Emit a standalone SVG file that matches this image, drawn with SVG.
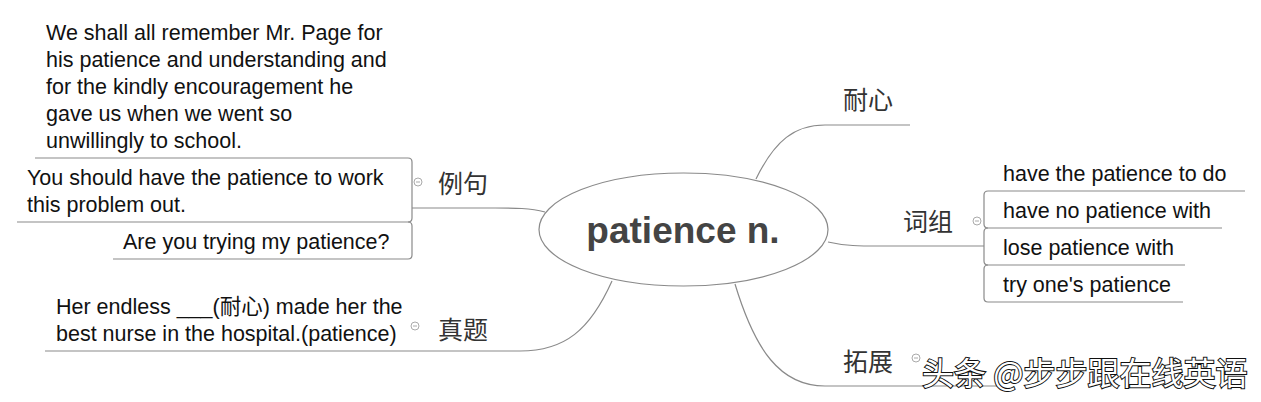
<svg xmlns="http://www.w3.org/2000/svg" width="1261" height="402" viewBox="0 0 1261 402">
<style>
.t{font-family:"Liberation Sans","Noto Sans CJK SC",sans-serif;font-size:21.5px;fill:#111}
.cn{font-family:"Noto Sans CJK SC",sans-serif;font-size:25px;fill:#333}
.ln{fill:none;stroke:#8a8a8a;stroke-width:1.2}
.bx{fill:none;stroke:#8a8a8a;stroke-width:1.2}
.cc{fill:#fff;stroke:#aaa;stroke-width:1}
.wm{font-family:"Noto Sans CJK SC",sans-serif;font-size:32px;fill:#fff;stroke:#111;stroke-width:2;paint-order:stroke}
</style>
<rect width="1261" height="402" fill="#fff"/>
<g id="connectors">
<path class="ln" d="M756,179 C775,140 795,125 825,125 L910,125"/>
<path class="ln" d="M828,242 C845,246 860,246 880,246 L984,246"/>
<path class="ln" d="M545,212 C530,208 515,208 495,208 L412,208"/>
<path class="ln" d="M612,281 C590,330 565,351 520,351 L45,351"/>
<path class="ln" d="M735,284 C755,350 780,386 825,386 L997,386"/>
</g>
<g id="center">
<ellipse cx="683.5" cy="229.5" rx="144.5" ry="56.5" fill="#fff" stroke="#8a8a8a" stroke-width="1.2"/>
<text x="683" y="243" text-anchor="middle" font-family="Liberation Sans, sans-serif" font-size="37" font-weight="bold" fill="#444">patience n.</text>
</g>
<g id="node-naixin">
<text class="cn" x="843" y="109">耐心</text>
</g>
<g id="node-cizu">
<text class="cn" x="903" y="231">词组</text>
<circle class="cc" cx="977" cy="221" r="4"/><line x1="975" y1="221" x2="979" y2="221" stroke="#aaa"/>
</g>
<g id="cizu-1">
<text class="t" x="1003" y="181">have the patience to do</text>
<path class="bx" d="M988,191 L1245,191"/>
</g>
<g id="cizu-2">
<text class="t" x="1003" y="218">have no patience with</text>
<path class="bx" d="M1222,228 L988,228 Q984,228 984,224 L984,195 Q984,191 988,191"/>
</g>
<g id="cizu-3">
<text class="t" x="1003" y="255">lose patience with</text>
<path class="bx" d="M1185,265 L988,265 Q984,265 984,261 L984,232 Q984,228 988,228"/>
</g>
<g id="cizu-4">
<text class="t" x="1003" y="292">try one's patience</text>
<path class="bx" d="M1183,302 L988,302 Q984,302 984,298 L984,269 Q984,265 988,265"/>
</g>
<g id="node-liju">
<text class="cn" x="438" y="193">例句</text>
<circle class="cc" cx="418" cy="182" r="4"/><line x1="416" y1="182" x2="420" y2="182" stroke="#aaa"/>
</g>
<g id="liju-1">
<text class="t" x="46" y="40">We shall all remember Mr. Page for</text>
<text class="t" x="46" y="67">his patience and understanding and</text>
<text class="t" x="46" y="94">for the kindly encouragement he</text>
<text class="t" x="46" y="121">gave us when we went so</text>
<text class="t" x="46" y="148">unwillingly to school.</text>
<path class="bx" d="M35,158 L408,158"/>
</g>
<g id="liju-2">
<text class="t" x="27" y="185">You should have the patience to work</text>
<text class="t" x="27" y="212">this problem out.</text>
<path class="bx" d="M408,158 Q412,158 412,162 L412,218 Q412,222 408,222 L17,222"/>
</g>
<g id="liju-3">
<text class="t" x="123" y="249">Are you trying my patience?</text>
<path class="bx" d="M408,222 Q412,222 412,226 L412,255 Q412,259 408,259 L113,259"/>
</g>
<g id="node-zhenti">
<text class="cn" x="438" y="339">真题</text>
<circle class="cc" cx="415" cy="326" r="4"/><line x1="413" y1="326" x2="417" y2="326" stroke="#aaa"/>
</g>
<g id="zhenti-1">
<text class="t" x="56" y="314">Her endless ___(耐心) made her the</text>
<text class="t" x="56" y="341">best nurse in the hospital.(patience)</text>
</g>
<g id="node-tuozhan">
<text class="cn" x="843" y="371">拓展</text>
<circle class="cc" cx="916" cy="358" r="4"/><line x1="914" y1="358" x2="918" y2="358" stroke="#aaa"/>
</g>
<text class="wm" x="922" y="385">头条 @步步跟在线英语</text>
</svg>
